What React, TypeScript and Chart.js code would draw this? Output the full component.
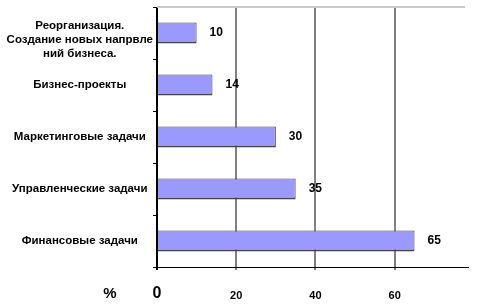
import React, { useEffect, useRef } from "react";
import { Chart, registerables } from "chart.js";

Chart.register(...registerables);

const categories: (string | string[])[] = [
  ["", "Реорганизация.", "Создание новых напрвле", "ний бизнеса."],
  "Бизнес-проекты",
  "Маркетинговые задачи",
  "Управленческие задачи",
  "Финансовые задачи",
];
const values = [10, 14, 30, 35, 65];
const xTicks = [0, 20, 40, 60];
const axisUnit = "%";

const FONT = "Arial, 'Liberation Sans', sans-serif";

export default function App() {
  const ref = useRef<HTMLCanvasElement>(null);
  useEffect(() => {
    if (!ref.current) return;
    const decor = {
      id: "decor",
      beforeDatasetsDraw(chart: any) {
        const { ctx, chartArea } = chart;
        ctx.save();
        ctx.strokeStyle = "#c8c8c8";
        ctx.lineWidth = 2;
        ctx.beginPath();
        ctx.moveTo(chartArea.left, chartArea.top);
        ctx.lineTo(chartArea.right - 3, chartArea.top);
        ctx.stroke();
        ctx.restore();
      },
      afterDatasetsDraw(chart: any) {
        const { ctx } = chart;
        const meta = chart.getDatasetMeta(0);
        ctx.save();
        ctx.fillStyle = "#000";
        ctx.font = `bold 12px ${FONT}`;
        ctx.textAlign = "left";
        ctx.textBaseline = "middle";
        meta.data.forEach((bar: any, i: number) => {
          ctx.fillText(String(values[i]), bar.x + 13, bar.y);
        });
        ctx.font = `bold 15px ${FONT}`;
        ctx.textAlign = "center";
        ctx.fillText(axisUnit, 110, 294);
        ctx.restore();
      },
    };
    const chart = new Chart(ref.current, {
      type: "bar",
      data: {
        labels: categories,
        datasets: [
          {
            data: values,
            backgroundColor: "#9999FF",
            borderColor: "#444",
            borderWidth: { top: 1, bottom: 2, right: 1, left: 0 },
            borderSkipped: false,
            barPercentage: 0.4,
            categoryPercentage: 1,
          },
        ],
      },
      options: {
        indexAxis: "y",
        animation: false,
        responsive: false,
        layout: { padding: { top: 7, right: 23, left: 0, bottom: 0 } },
        plugins: { legend: { display: false }, tooltip: { enabled: false } },
        scales: {
          x: {
            min: 0,
            max: 78.5,
            afterBuildTicks: (s: any) => {
              s.ticks = xTicks.map((v) => ({ value: v }));
            },
            afterFit: (s: any) => {
              s.height = 39;
              s.paddingLeft = 0;
              s.paddingRight = 0;
            },
            grid: {
              color: (c: any) => (c.tick && c.tick.value === 0 ? "#000" : "#808080"),
              lineWidth: 2,
              drawTicks: true,
              tickLength: 3,
            },
            border: { display: true, color: "#000", width: 1 },
            ticks: {
              color: "#000",
              padding: 14,
              font: (c: any) =>
                c.tick && c.tick.value === 0
                  ? { size: 16, weight: "bold", family: FONT, lineHeight: 1.2 }
                  : { size: 11, weight: "bold", family: FONT, lineHeight: 2.1 },
            },
          },
          y: {
            afterFit: (s: any) => {
              s.width = 157;
              s.paddingTop = 0;
              s.paddingBottom = 0;
            },
            grid: {
              drawOnChartArea: false,
              drawTicks: true,
              tickLength: 4,
              color: "#000",
              offset: true,
            },
            border: { display: true, color: "#000", width: 1 },
            ticks: {
              color: "#000",
              crossAlign: "center",
              autoSkip: false,
              padding: 0,
              font: { size: 11.5, weight: "bold", family: FONT, lineHeight: 1.22 },
            },
          },
        },
      },
      plugins: [decor],
    });
    return () => chart.destroy();
  }, []);
  return (
    <div style={{ position: "fixed", left: 0, top: 0, width: 491, height: 306, background: "#fff" }}>
      <canvas ref={ref} width={491} height={306} style={{ display: "block" }} />
    </div>
  );
}
